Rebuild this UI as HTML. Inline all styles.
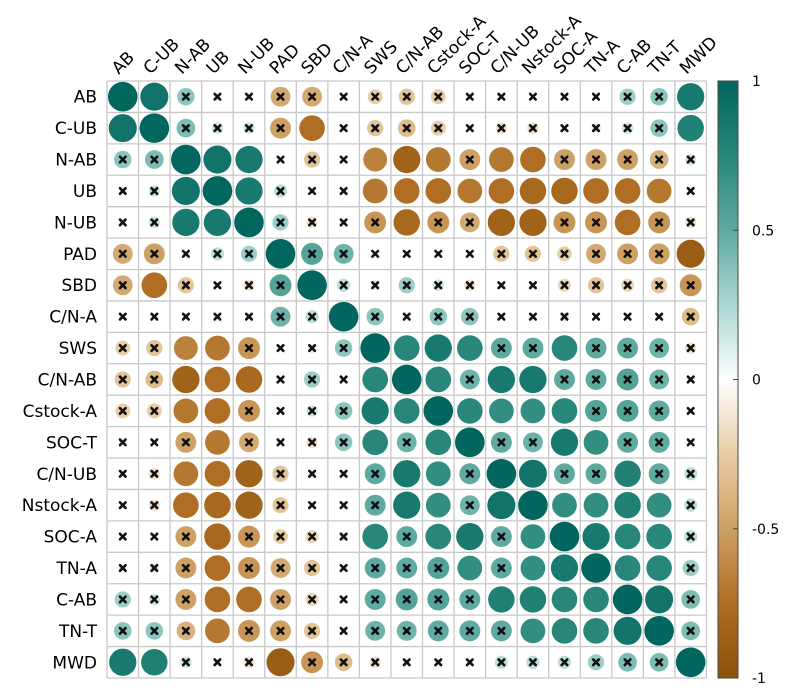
<!DOCTYPE html>
<html><head><meta charset="utf-8"><style>
body{margin:0;background:#fff;}
svg{display:block;font-family:"DejaVu Sans","Liberation Sans",sans-serif;}
</style></head><body>
<svg id="chart" width="787" height="691" viewBox="0 0 787 691"></svg>
<script>
const labels=["AB","C-UB","N-AB","UB","N-UB","PAD","SBD","C/N-A","SWS","C/N-AB","Cstock-A","SOC-T","C/N-UB","Nstock-A","SOC-A","TN-A","C-AB","TN-T","MWD"];
// upper triangle rows (from diagonal to end)
const upperRows=[
[1,0.9,0.35,0.05,0.05,-0.45,-0.45,0.02,-0.25,-0.3,-0.25,0.02,0.02,0.02,0.02,0.02,0.3,0.35,0.85],
[1,0.4,0.15,0.15,-0.5,-0.75,0.02,-0.3,-0.35,-0.25,0.02,-0.15,-0.15,0.02,0.1,0.15,0.35,0.8],
[1,0.9,0.85,0.02,-0.3,0.02,-0.65,-0.85,-0.7,-0.5,-0.7,-0.75,-0.5,-0.5,-0.5,-0.4,0.15],
[1,0.85,0.2,0.02,0.02,-0.7,-0.75,-0.75,-0.7,-0.75,-0.8,-0.8,-0.75,-0.75,-0.7,0.02],
[1,0.3,-0.15,0.02,-0.55,-0.8,-0.55,-0.45,-0.85,-0.85,-0.55,-0.55,-0.75,-0.55,-0.15],
[1,0.55,0.45,0.02,0.02,0.02,0.02,-0.3,-0.3,-0.25,-0.45,-0.5,-0.5,-0.9],
[1,0.2,0.1,0.3,0.15,-0.15,0.02,0.02,-0.2,-0.3,-0.2,-0.3,-0.55],
[1,0.35,0.02,0.35,0.35,0.02,0.02,0.1,0.02,0.02,0.02,-0.35],
[1,0.75,0.85,0.75,0.5,0.5,0.75,0.5,0.5,0.45,-0.15],
[1,0.75,0.45,0.85,0.85,0.5,0.5,0.55,0.45,0.02],
[1,0.75,0.7,0.7,0.75,0.55,0.55,0.5,0.02],
[1,0.5,0.45,0.85,0.7,0.5,0.5,0.02],
[1,0.9,0.5,0.5,0.8,0.5,0.2],
[1,0.7,0.7,0.8,0.7,0.2],
[1,0.85,0.75,0.75,0.2],
[1,0.75,0.75,0.3],
[1,0.9,0.4],
[1,0.4],
[1]];
const colorTicks=[1,0.5,0,-0.5,-1];
const sigThreshold=0.6;

const NS="http://www.w3.org/2000/svg";
const svg=document.getElementById('chart');
const n=labels.length, X0=107, Y0=81, CW=31.55, CH=31.42;
function mk(t,a,p){const e=document.createElementNS(NS,t);for(const k in a)e.setAttribute(k,a[k]);(p||svg).appendChild(e);return e;}
const stops=[[-1,[140,81,10]],[-0.75,[175,110,35]],[-0.5,[205,160,100]],[-0.25,[232,205,165]],[0,[255,255,255]],[0.25,[170,215,208]],[0.5,[95,170,160]],[0.75,[40,135,122]],[1,[1,102,94]]];
function col(v){for(let i=0;i<stops.length-1;i++){const [a,ca]=stops[i],[b,cb]=stops[i+1];if(v<=b){const t=(v-a)/(b-a);return 'rgb('+ca.map((c,j)=>Math.round(c+(cb[j]-c)*t)).join(',')+')';}}return 'rgb(1,102,94)';}
const M=[];for(let i=0;i<n;i++)M.push(new Array(n).fill(0));
for(let i=0;i<n;i++)for(let k=0;k<upperRows[i].length;k++){M[i][i+k]=upperRows[i][k];M[i+k][i]=upperRows[i][k];}
const cx=j=>X0+CW*(j+0.5), cy=i=>Y0+CH*(i+0.5);
const grid=mk('g',{});


for(let i=0;i<=n;i++){
  mk('line',{x1:X0,x2:X0+CW*n,y1:Y0+CH*i,y2:Y0+CH*i,stroke:'#c8c8c8','stroke-width':1.3},grid);
  mk('line',{y1:Y0,y2:Y0+CH*n,x1:X0+CW*i,x2:X0+CW*i,stroke:'#c8c8c8','stroke-width':1.3},grid);
}
for(let i=0;i<n;i++)for(let j=0;j<n;j++){
  const v=M[i][j];
  const r=14.8*Math.sqrt(Math.abs(v));
  const c=mk('circle',{cx:cx(j),cy:cy(i),r:r,fill:col(v)});
  
  
  if(i!==j&&Math.abs(v)<sigThreshold){
    const g=mk('g',{stroke:'#111','stroke-width':2.6,'stroke-linecap':'round'});
    
    
    const s=2.8;
    mk('line',{x1:cx(j)-s,y1:cy(i)-s,x2:cx(j)+s,y2:cy(i)+s},g);
    mk('line',{x1:cx(j)-s,y1:cy(i)+s,x2:cx(j)+s,y2:cy(i)-s},g);
  }
}
labels.forEach((l,i)=>{
  const t=mk('text',{x:X0-10,y:cy(i)+6,'text-anchor':'end','font-size':17,fill:'#000'});t.textContent=l;
  
  
  const u=mk('text',{x:cx(i)-4,y:Y0-6,'font-size':17,fill:'#000',transform:'rotate(-45 '+(cx(i)-4)+' '+(Y0-6)+')'});u.textContent=l;
  
  
});
// colorbar
const CBX=718,CBW=20,CBT=81,CBB=678;
const defs=mk('defs',{});const lg=mk('linearGradient',{id:'cg',x1:0,y1:0,x2:0,y2:1},defs);
for(let k=stops.length-1;k>=0;k--){const s=stops[k];mk('stop',{offset:((1-s[0])/2*100)+'%','stop-color':'rgb('+s[1].join(',')+')'},lg);}
const cb=mk('rect',{x:CBX,y:CBT,width:CBW,height:CBB-CBT,fill:'url(#cg)',stroke:'#444','stroke-width':1});


colorTicks.forEach(v=>{
  const y=CBT+(1-v)/2*(CBB-CBT);
  mk('line',{x1:CBX+CBW-5,x2:CBX+CBW,y1:y,y2:y,stroke:'#444'});
  const t=mk('text',{x:CBX+CBW+14,y:y+5,'font-size':14,fill:'#000'});t.textContent=String(v);
  
  
});
</script>
</body></html>
